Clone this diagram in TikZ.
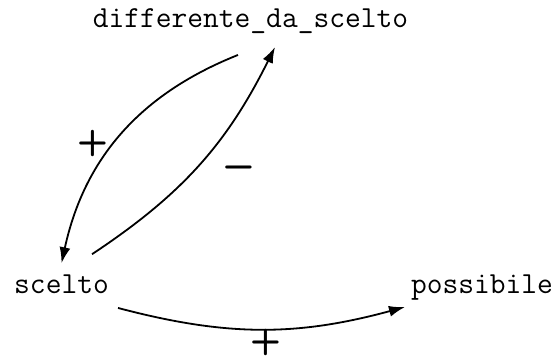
\documentclass[tikz,border=0pt]{standalone}
\usetikzlibrary{arrows.meta}
\begin{document}
\begin{tikzpicture}[
		>={Latex[length=8pt,width=5.5pt]},
		var/.style={font=\fontsize{15.3}{18}\selectfont\ttfamily, inner sep=0pt, anchor=base},
		link/.style={->, line width=0.9pt},
		sign/.style={font=\fontsize{18}{20}\selectfont\sffamily\bfseries},
	]
	\useasboundingbox (0,0) rectangle (9.806,6.291);

	% ---------- variables ----------
	\node[var] (dif) at (4.402,5.799) {differente\_da\_scelto};
	\node[var] (sce) at (1.081,1.125) {scelto};
	\node[var] (pos) at (8.470,1.125) {possibile};

	% ---------- links ----------
	\draw[link] ([shift={(-0.22,-0.474)}]dif.base) to[bend right=28] ([yshift=0.205cm]sce.north);
	\draw[link] ([shift={(0.536,0.363)}]sce.north) to[bend right=15] ([shift={(0.431,-0.334)}]dif.base);
	\draw[link] ([shift={(0.993,-0.246)}]sce.base) to[bend right=15] ([shift={(-1.353,-0.229)}]pos.base);

	% ---------- signs ----------
	\node[sign] (s1) at (1.634,3.761) {+};
	\node[sign] (s2) at (4.2,3.286) {−};
	\node[sign] (s3) at (4.674,0.264) {+};

\end{tikzpicture}
\end{document}
